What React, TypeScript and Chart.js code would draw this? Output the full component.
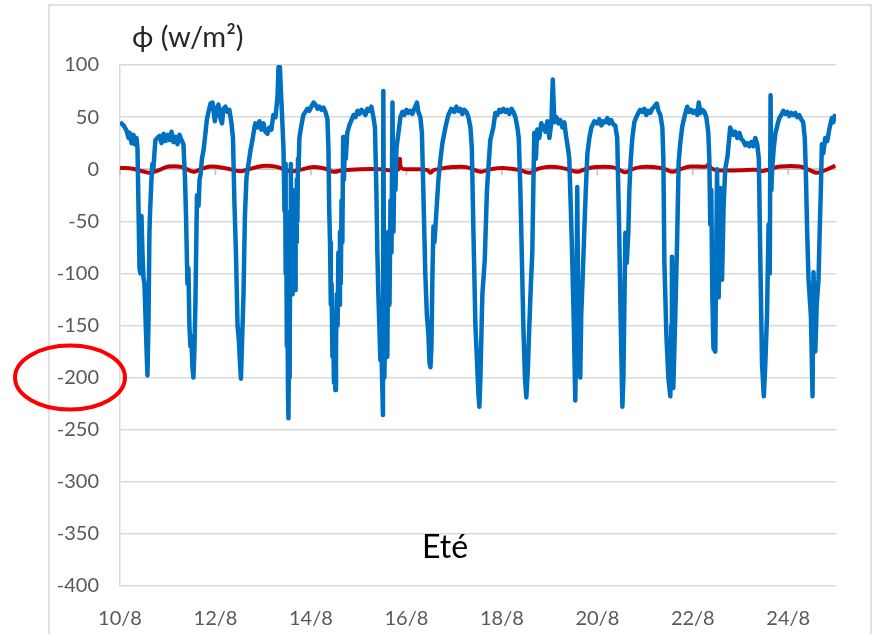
import React, { useEffect, useRef } from "react";
import { Chart, registerables } from "chart.js";

Chart.register(...registerables);

// ---- data (x = hours since 10/8 00:00) ----
const blueHours: number[] = [
  0, 1.8, 3.3, 4.3, 4.8, 5.8, 6.8, 7.3, 8.3, 8.8,
  9.5, 9.8, 10.3, 10.8, 11.3, 11.8, 12.3, 13.3, 13.8, 14.3, 14.8, 15.1, 15.8, 16.3, 16.8, 17.3, 17.8,
  18.8, 19.9, 20.9, 21.9, 22.9, 23.9, 24.9, 25.9, 26.9, 27.9, 28.9, 29.9, 30.9, 31.9,
  32.7, 33.2, 33.9, 34.4, 34.9, 35.4, 35.9, 36.4, 36.9, 37.4, 37.9, 38.7, 39.5, 40.0, 40.5, 41.2, 42.0, 42.7, 43.7, 44.5, 45.5,
  46.5, 47.7, 48.5, 49.5, 50.3, 51.3, 52.0, 53.0, 54.0, 55.0, 56.0, 56.8,
  57.5, 58.3, 59.1, 59.8, 60.3, 60.8, 61.3, 62.1, 62.8, 63.6, 64.6, 65.6, 66.6, 67.6,
  68.1, 69.1, 70.1, 71.1, 72.1, 73.1, 74.1, 75.1, 76.1, 77.1, 78.2, 79.2, 79.7, 80.4, 80.9, 81.4, 82.2,
  82.7, 83.0, 83.3, 83.6, 83.9, 84.2, 84.5, 84.7, 85.0, 85.3, 85.6, 85.9, 86.2, 86.5, 86.8, 87.1, 87.4, 87.7, 88.0, 88.3, 88.6, 88.9, 89.2, 89.5, 89.8, 90.2, 91.2,
  92.2, 93.2, 94.2, 95.2, 96.2, 97.3, 98.3, 99.3, 100.3, 101.3, 102.3, 103.3, 104.3,
  104.8, 105.2, 105.6, 106.0, 106.4, 106.8, 107.2, 107.6, 108.0, 108.3, 108.6, 109.0, 109.4, 109.8, 110.2, 110.6, 111.0, 111.4, 111.8, 112.2, 112.6, 113.0, 113.5, 114.3, 115.3, 116.4,
  117.4, 118.4, 119.4, 120.4, 121.4, 122.4, 123.4, 124.4, 125.4, 126.4, 127.4, 128.2,
  128.9, 129.4, 129.9, 130.4, 130.9, 131.4, 131.9, 132.2, 132.4, 132.9, 133.4, 133.9, 134.4, 134.9, 135.5, 136.0, 136.5, 137.0, 137.5, 138.0, 138.5, 139.0, 140.0, 141.0, 142.0,
  143.0, 144.0, 145.0, 146.0, 147.0, 148.0, 149.3, 150.0, 151.0, 151.8,
  152.5, 153.0, 153.5, 154.3, 155.1, 155.6, 156.1, 156.6, 157.1, 157.6, 158.1, 159.1, 160.1, 161.1, 162.1, 163.6, 165.1, 166.6,
  168.1, 169.1, 170.1, 171.1, 172.1, 173.1, 174.2, 175.2, 176.2,
  176.9, 177.7, 178.7, 179.4, 180.2, 180.7, 181.2, 181.7, 182.2, 183.4, 184.5, 185.5, 186.2, 187.7, 188.7,
  189.7, 190.7, 191.7, 192.7, 193.8, 194.8, 195.8, 196.8, 197.8, 198.8, 199.8,
  200.5, 201.3, 202.0, 202.8, 203.6, 204.3, 205.1, 205.8, 206.6, 207.3, 207.8, 208.3, 209.1, 209.8, 210.8,
  211.8, 212.9, 213.9, 214.9, 215.9, 216.9, 217.6, 218.4, 219.4, 220.4, 221.4, 222.4, 223.4, 224.4, 225.4,
  225.9, 226.7, 227.4, 228.2, 228.9, 229.4, 229.9, 230.4, 230.9, 231.4, 231.9, 232.7, 233.5, 234.2, 235.0, 236.0, 237.0, 238.5,
  240.0, 241.0, 242.0, 243.0, 244.0, 245.0, 246.0, 247.0, 248.0, 249.0, 250.0,
  251.0, 251.6, 252.1, 252.6, 253.1, 253.6, 254.1, 254.8, 255.6, 256.1, 256.8, 257.6, 258.6, 259.6,
  260.6, 261.6, 262.6, 263.6, 264.6, 265.6, 266.6, 267.6, 268.6, 269.9, 270.7, 271.7, 272.7,
  273.2, 273.7, 274.7, 275.7, 276.7, 277.2, 277.5, 278.2, 279.2, 280.1, 280.9, 281.7, 282.7, 284.0, 285.2,
  286.2, 287.2, 288.2, 289.2, 290.3, 291.0, 291.8, 292.8, 293.8, 294.8, 295.8,
  296.3, 296.8, 297.3, 297.8, 298.4, 299.3, 300.2, 301.0, 301.8, 302.7, 303.5, 304.3, 305.5, 306.8,
  308.3, 309.3, 310.4, 311.4, 312.4, 313.4, 314.4, 315.4, 316.4, 317.4, 318.4, 319.4, 320.4,
  321.2, 321.9, 322.8, 323.7, 324.4, 325.3, 326.1, 326.7, 327.1, 327.5, 327.9, 328.7, 329.5, 330.5, 331.5, 332.5, 333.5,
  334.5, 335.5, 336.5, 337.5, 338.5, 339.5, 340.5, 341.5, 342.5, 343.5, 344.3,
  344.8, 345.5, 346.2, 347.4, 348.2, 348.7, 349.6, 350.3, 351.2, 351.8, 352.4, 352.9, 353.6, 354.6, 355.6, 356.6, 357.9, 358.6, 359.6,
];

const blueFlux: number[] = [
  45, 42, 37, 30, 35, 25, 33, 24, 30, 20,
  -60, -95, -100, -45, -80, -104, -110, -170, -198, -150, -60, -42, -10, 5, 0, 15, 28,
  30, 32, 25, 34, 27, 33, 28, 36, 26, 31, 24, 33, 28, 24,
  -10, -45, -110, -95, -150, -170, -160, -190, -200, -175, -130, -25, -35, -10, -5, 10, 18, 30, 48, 55, 63,
  64, 46, 58, 62, 50, 44, 58, 60, 55, 57, 45, 30,
  -30, -80, -150, -165, -185, -201, -170, -120, -45, -8, 5, 18, 28, 40,
  44, 40, 46, 38, 44, 36, 34, 40, 38, 52, 50, 70, 98, 98, 75, 55, 20,
  -40, 5, -100, -60, -170, -130, -220, -239, -160, -200, -40, 5, -90, -20, -120, -40, -100, -30, -116, -50, -70, -10, -50, 10, 0, 30, 42,
  52, 55, 58, 56, 60, 64, 62, 58, 60, 57, 59, 55, 48,
  20, -40, -70, -130, -110, -180, -160, -205, -190, -212, -170, -120, -150, -80, -130, -60, -110, -30, -70, 31, -10, 20, 10, 35, 42, 47,
  52, 50, 56, 53, 57, 55, 52, 58, 56, 60, 50, 40,
  -20, -80, -120, -150, -183, -170, -210, -236, 75, -200, -150, -100, -180, -60, -130, -30, -80, 64, -60, 10, -20, 20, 35, 50, 55,
  52, 57, 54, 56, 53, 58, 64, 55, 50, 35,
  -20, -60, -100, -140, -160, -185, -190, -170, -100, -55, -70, -40, -10, 9, 25, 40, 52, 58,
  55, 60, 56, 58, 53, 57, 55, 50, 40,
  20, -60, -150, -180, -215, -228, -200, -160, -120, -87, -20, 9, 28, 40, 54,
  52, 57, 55, 58, 55, 57, 53, 58, 55, 50, 40,
  30, -20, -80, -150, -200, -219, -190, -150, -110, -80, -20, 35, 10, 38, 30,
  44, 40, 36, 46, 30, 45, 86, 45, 50, 44, 47, 40, 45, 30, 18,
  10, -40, -87, -150, -222, -160, -17, -140, -190, -200, -140, -100, -56, -20, 15, 30, 40, 46,
  44, 48, 42, 46, 45, 49, 44, 47, 43, 42, 30,
  -60, -130, -180, -228, -200, -130, -61, -90, -60, -20, 9, 30, 45, 50,
  54, 57, 55, 58, 52, 56, 54, 58, 60, 63, 56, 52, 40,
  10, -88, -158, -200, -218, -150, -84, -210, -140, -70, 7, 25, 41, 52, 60,
  55, 57, 54, 56, 52, 64, 54, 57, 55, 50, 35,
  10, -53, -20, -120, -172, -175, 0, -123, -18, -106, -35, 0, 13, 40,
  33, 36, 30, 35, 29, 27, 23, 25, 22, 26, 22, 30, 24,
  10, -81, -186, -218, -190, -141, -53, -100, 71, -20, 0, 20, 34, 42, 49, 52, 56,
  53, 55, 51, 54, 52, 54, 50, 52, 48, 45, 30,
  0, -60, -106, -141, -218, -99, -175, -130, -106, -60, -18, 24, 15, 30, 27, 38, 49, 45, 53,
];

const redHours: number[] = [
  0, 6.3, 11.3, 15.3, 19.4, 24.4, 31.4, 36.9, 40.5, 45.5,
  53.0, 60.6, 64.6, 71.6, 78.2, 85.7, 89.7, 97.3, 103.3, 107.3,
  111.8, 120.9, 130.9, 136.0, 140.0, 140.7, 141.5, 146.0, 151.0, 154.6,
  156.1, 157.6, 161.1, 167.1, 174.2, 181.2, 186.2, 193.8, 201.3, 206.3,
  209.8, 213.9, 219.9, 224.9, 229.9, 233.9, 239.0, 247.5, 251.6, 254.1,
  257.6, 261.6, 268.1, 274.2, 277.7, 281.7, 286.7, 294.8, 295.8, 297.3,
  300.3, 311.9, 319.4, 321.9, 325.9, 331.9, 341.9, 346.9, 350.5, 354.6,
  359.6,
];

const redFlux: number[] = [
  1.5, 0.5, -2, -3.5, -1, 2.5, 2, -2.5, 0, 2.5,
  1, -2, 0, 3, 2.5, -2, -1, 2, 0.5, -2.5,
  -1, 0, 0, -1, 0, 10, 1, 0, 0, -1,
  -3.5, -1, 0.5, 2, 2, -2.5, 0, 1, -1, -3.5,
  0, 2, 2, 0, -2.5, 0, 2, 2, -1, -3,
  0, 2, 2, 0, -2.5, 0, 2.5, 2.5, 4.5, 1,
  -1, -1, -0.5, -2, -0.5, 2.5, 2.5, -1, -3.5, -1,
  3.5,
];

const xTickHours: number[] = [0, 48, 96, 144, 192, 240, 288, 336];
const xTickLabels: string[] = ["10/8", "12/8", "14/8", "16/8", "18/8", "20/8", "22/8", "24/8"];
const yMin = -400;
const yMax = 100;
const yStep = 50;
const titleText = "\u03D5 (w/m\u00B2)";
const seasonText = "Eté";
const circledValue = -200;

const FONT = 'Lato, "Open Sans", "DejaVu Sans", sans-serif';

const decorPlugin = {
  id: "decor",
  beforeDraw(chart: any) {
    const ctx = chart.ctx;
    ctx.save();
    ctx.fillStyle = "#ffffff";
    ctx.fillRect(0, 0, chart.width, chart.height);
    ctx.strokeStyle = "#d9d9d9";
    ctx.lineWidth = 1.5;
    ctx.strokeRect(49, 5, 822, 700);
    ctx.restore();
  },
  beforeDatasetsDraw(chart: any) {
    const { ctx, chartArea, scales } = chart;
    const x = scales.x;
    const y = scales.y;
    const y0 = y.getPixelForValue(0);
    ctx.save();
    ctx.strokeStyle = "#bfbfbf";
    ctx.lineWidth = 1.5;
    ctx.beginPath();
    ctx.moveTo(chartArea.left, y0);
    ctx.lineTo(chartArea.right, y0);
    xTickHours.forEach((h) => {
      const px = x.getPixelForValue(h);
      ctx.moveTo(px, y0);
      ctx.lineTo(px, y0 + 6);
    });
    ctx.stroke();
    ctx.restore();
  },
  afterDraw(chart: any) {
    const { ctx, scales } = chart;
    const y = scales.y;
    ctx.save();
    ctx.fillStyle = "#262626";
    ctx.font = `29px ${FONT}`;
    ctx.textAlign = "left";
    ctx.textBaseline = "middle";
    ctx.fillText(titleText, 132, 38);
    ctx.fillStyle = "#000000";
    ctx.font = `32px ${FONT}`;
    ctx.textAlign = "center";
    ctx.fillText(seasonText, 445, 548);
    ctx.strokeStyle = "#ff0000";
    ctx.lineWidth = 4;
    ctx.beginPath();
    ctx.ellipse(70, y.getPixelForValue(circledValue), 55, 32, 0, 0, Math.PI * 2);
    ctx.stroke();
    ctx.restore();
  },
};

export default function App() {
  const ref = useRef<HTMLCanvasElement | null>(null);

  useEffect(() => {
    if (!ref.current) return;
    const n = Math.min(blueHours.length, blueFlux.length);
    const blueData = [];
    for (let i = 0; i < n; i++) blueData.push({ x: blueHours[i], y: blueFlux[i] });
    const m = Math.min(redHours.length, redFlux.length);
    const redData = [];
    for (let i = 0; i < m; i++) redData.push({ x: redHours[i], y: redFlux[i] });

    const chart = new Chart(ref.current, {
      type: "line",
      data: {
        datasets: [
          {
            data: blueData,
            borderColor: "#0070C0",
            borderWidth: 4.5,
            pointRadius: 0,
            tension: 0,
            borderJoinStyle: "round",
          },
          {
            data: redData,
            borderColor: "#C00000",
            borderWidth: 4,
            pointRadius: 0,
            tension: 0.35,
          },
        ],
      },
      options: {
        animation: false,
        responsive: false,
        devicePixelRatio: 1,
        parsing: false,
        layout: { padding: { left: 0, right: 42, top: 65, bottom: 0 } },
        plugins: { legend: { display: false }, tooltip: { enabled: false }, title: { display: false } },
        scales: {
          x: {
            type: "linear",
            min: 0,
            max: 360,
            grid: { display: false, drawTicks: false },
            border: { display: false },
            afterFit(s: any) {
              s.height = 48;
            },
            afterBuildTicks(s: any) {
              s.ticks = xTickHours.map((v) => ({ value: v }));
            },
            ticks: {
              autoSkip: false,
              maxRotation: 0,
              padding: 21,
              color: "#595959",
              font: { family: FONT, size: 20 },
              callback: (_v: any, i: number) => xTickLabels[i],
            },
          },
          y: {
            min: yMin,
            max: yMax,
            afterFit(s: any) {
              s.width = 120;
            },
            ticks: {
              stepSize: yStep,
              padding: 21,
              color: "#595959",
              font: { family: FONT, size: 20 },
            },
            grid: { color: "#d9d9d9", lineWidth: 1.5, drawTicks: false },
            border: { display: true, color: "#d9d9d9", width: 1.5 },
          },
        },
      },
      plugins: [decorPlugin],
    });
    return () => chart.destroy();
  }, []);

  return (
    <div style={{ position: "fixed", left: 0, top: 0, width: 878, height: 634, background: "#fff" }}>
      <canvas ref={ref} width={878} height={634} style={{ display: "block" }} />
    </div>
  );
}
